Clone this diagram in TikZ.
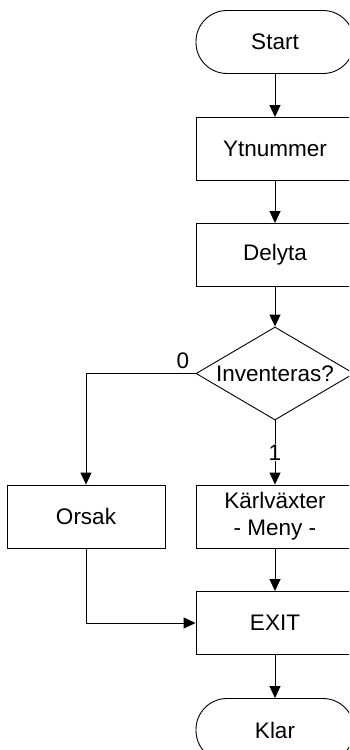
\documentclass[tikz,border=0pt]{standalone}
\usepackage{fontspec}
\setmainfont{Liberation Sans}
\usetikzlibrary{arrows.meta,shapes.geometric}
\begin{document}
\begin{tikzpicture}[x=1pt,y=1pt,
  txt/.style={font=\fontsize{22.5}{27}\selectfont},
  box/.style={draw, line width=0.9pt, minimum width=158pt, minimum height=63pt, inner sep=0pt, align=center, txt},
  term/.style={box, rounded corners=31pt},
  dec/.style={draw, diamond, aspect=1.7, line width=0.9pt, minimum width=158pt, minimum height=93pt, inner sep=0pt, txt},
  arr/.style={-{Triangle[length=12pt,width=11pt]}, line width=0.9pt},
  lbl/.style={txt, inner sep=1pt}]
\useasboundingbox (0,0) rectangle (349,-750);
\clip (0,0) rectangle (349,-750);
\node[term] (start) at (275,-42) {Start};
\node[box] (ytn) at (275,-149) {Ytnummer};
\node[box] (del) at (275,-255) {Delyta};
\node[dec] (dec) at (275,-373.5) {Inventeras?};
\node[box] (ors) at (86,-516.5) {Orsak};
\node[box] (karl) at (275,-516.5) {Kärlväxter\\- Meny -};
\node[box] (exit) at (275,-623) {EXIT};
\node[term] (klar) at (275,-730) {Klar};
\draw[arr] (start) -- (ytn);
\draw[arr] (ytn) -- (del);
\draw[arr] (del) -- (dec);
\draw[arr] (dec.west) -| (ors.north);
\node[lbl] (lab0) at (183,-361) {0};
\draw[arr] (dec.south) -- (karl.north) node[lbl, fill=white, pos=0.5] (lab1) {1};
\draw[arr] (karl) -- (exit);
\draw[arr] (ors.south) |- (exit.west);
\draw[arr] (exit) -- (klar);
\end{tikzpicture}
\end{document}
